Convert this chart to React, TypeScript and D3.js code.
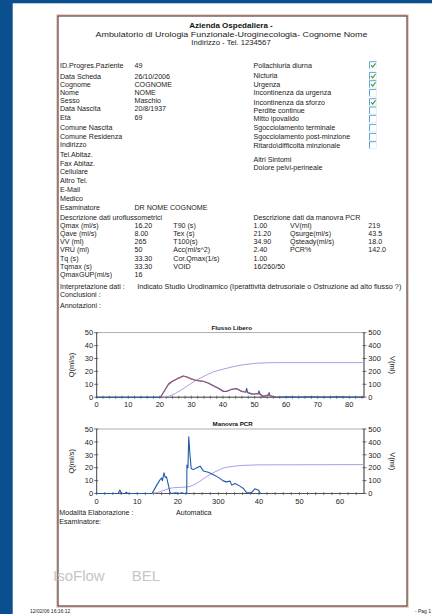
import * as React from 'react';
import {line, scaleLinear, range} from 'd3';

const W = 432;
const H = 614;
const FONT = "'Liberation Sans', Arial, sans-serif";

// header
const headerLines = [
    'Azienda Ospedaliera -',
    'Ambulatorio di Urologia Funzionale-Uroginecologia- Cognome Nome',
    'Indirizzo - Tel. 1234567',
];

// patient block
const patientLabels = ['ID.Progres.Paziente', 'Data Scheda', 'Cognome', 'Nome', 'Sesso', 'Data Nascita', 'Età',
    'Comune Nascita', 'Comune Residenza', 'Indirizzo', 'Tel.Abitaz.', 'Fax Abitaz.', 'Cellulare', 'Altro Tel.',
    'E-Mail', 'Medico', 'Esaminatore'];
const patientValues = ['49', '26/10/2006', 'COGNOME', 'NOME', 'Maschio', '20/8/1937', '69',
    '', '', '', '', '', '', '', '', '', 'DR NOME COGNOME'];
const patientRowY = [65, 76, 84.3, 92.7, 100.7, 108.7, 117, 127.3, 136, 144.3, 154, 163.3, 171.7, 180.5, 189, 198.3, 207.3];

// symptoms
const symptoms = ['Pollachiuria diurna', 'Nicturia', 'Urgenza', 'Incontinenza da urgenza', 'Incontinenza da sforzo',
    'Perdite continue', 'Mitto ipovalido', 'Sgocciolamento terminale', 'Sgocciolamento post-minzione',
    'Ritardo\\difficoltà minzionale'];
const symptomChecked = [true, true, true, false, true, false, false, false, false, false];
const symptomRowY = [65, 75.7, 84, 92.7, 102, 110.3, 118.6, 127.7, 136.7, 145];

// uroflow table
const uroLabels = ['Qmax (ml/s)', 'Qave (ml/s)', 'VV (ml)', 'VRU (ml)', 'Tq (s)', 'Tqmax (s)', 'QmaxGUP(ml/s)'];
const uroValues = ['16.20', '8.00', '265', '50', '33.30', '33.30', '16'];
const timeLabels = ['T90 (s)', 'Tex (s)', 'T100(s)', 'Acc(ml/s^2)', 'Cor.Qmax(1/s)', 'VOID'];
const timeValues = ['1.00', '21.20', '34.90', '2.40', '1.00', '16/260/50'];
const pcrLabels = ['VV(ml)', 'Qsurge(ml/s)', 'Qsteady(ml/s)', 'PCR%'];
const pcrValues = ['219', '43.5', '18.0', '142.0'];

// chart 1: Flusso Libero
const free1Time = [0, 20.2, 21.6, 22.7, 23.7, 25.8, 27.4, 28.4, 30.0, 31.6, 33.7, 35.3, 36.9, 38.5, 40.1, 41.1, 42.7,
    44.3, 45.9, 47.2, 47.5, 47.8, 49.1, 51.2, 51.4, 51.7, 52.8, 54.4, 54.6, 54.9, 56.0, 57.0, 60, 64, 68, 72, 76, 80, 84.5];
const free1Flow = [0, 0, 5.6, 10, 12, 14.7, 16.5, 15.9, 14.1, 13, 12.4, 11, 8.9, 7, 4.4, 4.4, 6.2,
    6.8, 4.4, 3.9, 6.8, 3.5, 2.3, 2.8, 4.9, 2.5, 0.6, 1.7, 3.6, 1.2, 0.3, 0, 0.3, 0.2, 0.3, 0.2, 0.3, 0.2, 0.2];
const smooth1Time = [20.2, 21.6, 22.7, 23.7, 25.8, 27.4, 28.4, 30.0, 31.6, 33.7, 35.3, 36.9, 38.5, 40.1, 41.1, 42.7,
    44.3, 45.9, 47.5, 49.1, 51.2, 52.8, 54.4, 56.0, 57.0];
const smooth1Flow = [0, 5.4, 9.6, 11.8, 14.6, 16.2, 15.8, 14.2, 13.0, 12.3, 11.0, 9.0, 7.1, 4.8, 4.6, 6.0,
    6.5, 4.8, 4.2, 2.8, 2.6, 1.0, 1.6, 0.5, 0];
const vol1Time = [21, 23, 25, 27, 29, 31, 33, 35, 37, 40, 43, 46, 50, 53, 57, 84.6];
const vol1Vol = [0, 8, 30, 60, 92, 125, 150, 175, 197, 217, 235, 250, 262, 266, 268, 268];
const xLabels1 = ['0', '10', '20', '30', '40', '50', '60', '70', '80'];

// chart 2: Manovra PCR
const pcrTime = [0, 5.3, 5.7, 6.2, 7.0, 7.3, 7.6, 13.6, 14.2, 14.8, 15.3, 15.7, 16.0, 16.2, 16.4, 16.6, 16.9, 17.2,
    17.5, 17.8, 18.1, 18.4, 19.5, 20.3, 21.0, 21.6, 22.2, 22.25, 22.5, 22.7, 23.0, 23.3, 23.8, 24.7, 25.5, 26.3, 27.5,
    28.8, 30.0, 31.2, 32.0, 32.9, 33.3, 34.1, 34.5, 35.3, 36.2, 37.0, 38.2, 39.0, 39.9, 40.4];
const pcrFlow = [0, 0, 2.6, 0, 0, 1, 0, 0, 3, 6.5, 9, 11, 12, 10, 13, 16, 12.5, 13,
    9, 5, 0.5, 0, 0.5, 0, 0.6, 0, 0, 22, 20, 44, 30, 19.4, 18.5, 20, 21.2, 17.5, 16.5,
    14.5, 12.5, 9.8, 9, 9.6, 6.5, 7.8, 7.2, 5.7, 3.9, 0.5, 0.7, 3.6, 2.6, 0];
const vol2Time = [13.6, 15, 16, 17, 18, 19, 22.2, 23, 24, 25, 26, 27, 28, 29, 30, 31, 32, 34, 36, 40, 65.9];
const vol2Vol = [0, 8, 18, 30, 40, 45, 50, 55, 68, 85, 108, 128, 148, 165, 180, 195, 203, 212, 218, 222, 224];
const xLabels2 = ['0', '10', '20', '300', '40', '50', '60'];

const qLabels = ['0', '10', '20', '30', '40', '50'];
const vLabels = ['0', '100', '200', '300', '400', '500'];

const X0 = 96.7;
const X1 = 364;
const PH = 64.5;

type ChartProps = {
    top: number, xMax: number, title: string, titleX: number, xLabels: string[],
    flowT: number[], flowV: number[], smoothT?: number[], smoothV?: number[], volT: number[], volV: number[]
};

function Chart(p: ChartProps) {
    const x = scaleLinear().domain([0, p.xMax]).range([X0, X1]);
    const yQ = scaleLinear().domain([0, 50]).range([p.top + PH, p.top]);
    const yV = scaleLinear().domain([0, 500]).range([p.top + PH, p.top]);
    const bottom = p.top + PH;
    const mk = (ts: number[], vs: number[], ys: any) =>
        line<number>().x((_, i) => x(ts[i])).y(v => ys(v))(vs) || '';
    const minor = range(0, p.xMax, 2);
    const axis = '#4a4a4a';
    const tick = {fontFamily: FONT, fontSize: 7.5, fill: '#222'};
    const midY = p.top + PH / 2;
    return (
        <g>
            <text x={p.titleX} y={p.top - 2.9} textAnchor="middle" fontFamily={FONT} fontSize={6.2}
                  fontWeight="bold" fill="#111">{p.title}</text>
            <rect x={X0} y={p.top} width={X1 - X0} height={PH} fill="none" stroke="#8a8a8a" strokeWidth={0.7}/>
            <line x1={X0} x2={X0} y1={p.top} y2={bottom} stroke={axis} strokeWidth={0.9}/>
            <line x1={X1} x2={X1} y1={p.top} y2={bottom} stroke={axis} strokeWidth={0.9}/>
            <line x1={X0} x2={X1} y1={bottom} y2={bottom} stroke={axis} strokeWidth={0.9}/>
            {minor.map(t => (
                <line key={'m' + t} x1={x(t)} x2={x(t)} y1={bottom - 1.5} y2={bottom + 1.6}
                      stroke={axis} strokeWidth={0.7}/>
            ))}
            {p.xLabels.map((l, i) => (
                <text key={'xl' + i} x={x(i * 10)} y={bottom + 10.2} textAnchor="middle" {...tick}>{l}</text>
            ))}
            {qLabels.map((l, i) => (
                <g key={'q' + i}>
                    <line x1={X0 - 2.5} x2={X0 + 1.5} y1={yQ(i * 10)} y2={yQ(i * 10)} stroke={axis} strokeWidth={0.8}/>
                    <text x={X0 - 3.6} y={yQ(i * 10) + 2.7} textAnchor="end" {...tick}>{l}</text>
                </g>
            ))}
            {vLabels.map((l, i) => (
                <g key={'v' + i}>
                    <line x1={X1 - 1.5} x2={X1 + 2.5} y1={yV(i * 100)} y2={yV(i * 100)} stroke={axis} strokeWidth={0.8}/>
                    <text x={X1 + 4.3} y={yV(i * 100) + 2.7} textAnchor="start" {...tick}>{l}</text>
                </g>
            ))}
            <text transform={`translate(74.2,${midY}) rotate(-90)`} textAnchor="middle" {...tick}>Q(ml/s)</text>
            <text transform={`translate(390.2,${midY}) rotate(90)`} textAnchor="middle" {...tick}>V(ml)</text>
            <path d={mk(p.volT, p.volV, yV)} fill="none" stroke="#ab9ee6" strokeWidth={1}/>
            <path d={mk(p.flowT, p.flowV, yQ)} fill="none" stroke="#1f5aa8" strokeWidth={1.1} strokeLinejoin="round"/>
            {p.smoothT && p.smoothV &&
            <path d={mk(p.smoothT, p.smoothV, yQ)} fill="none" stroke="#c05468" strokeWidth={1.1}
                  strokeLinejoin="round" opacity={0.8}/>}
        </g>
    );
}

export default function App() {
    const txt = {fontFamily: FONT, fontSize: 7.1, fill: '#1a1a1a'};
    const tableY0 = 225;
    const rowH = 8.3;
    const b = 2.5;
    return (
        <div style={{position: 'absolute', left: 0, top: 0}}>
            <svg width={W} height={H} style={{display: 'block', background: '#fff'}}>
                <rect x={0} y={0} width={W} height={3.3} fill="#0b4f8e"/>
                <rect x={0} y={0} width={12.7} height={H} fill="#0b4f8e"/>
                <rect x={57.5} y={15.5} width={350} height={591} fill="none" stroke="#e2b3a3" strokeWidth={2.2}/>
                <rect x={58} y={16} width={349} height={590} fill="none" stroke="#3a3a3a" strokeWidth={0.9}/>

                <text x={231} y={28} textAnchor="middle" fontFamily={FONT} fontSize={8} fontWeight="bold"
                      fill="#111">{headerLines[0]}</text>
                <text x={231.5} y={36.9} textAnchor="middle" fontFamily={FONT} fontSize={7.7} textLength={272}
                      lengthAdjust="spacingAndGlyphs" fill="#222">{headerLines[1]}</text>
                <text x={231} y={45.2} textAnchor="middle" fontFamily={FONT} fontSize={7.7}
                      fill="#222">{headerLines[2]}</text>

                {patientLabels.map((l, i) => (
                    <g key={'p' + i}>
                        <text x={60} y={patientRowY[i] + b} {...txt}>{l}</text>
                        <text x={134.5} y={patientRowY[i] + b} {...txt}>{patientValues[i]}</text>
                    </g>
                ))}

                {symptoms.map((s, i) => {
                    const cy = symptomRowY[i] - 3.3;
                    return (
                        <g key={'s' + i}>
                            <text x={253.5} y={symptomRowY[i] + b} {...txt}>{s}</text>
                            <path d={`M369.5,${cy + 7} V${cy} H376.5`} fill="none" stroke="#4c9dcc" strokeWidth={0.9}/>
                            <path d={`M369.5,${cy + 7} H376.5 V${cy}`} fill="none" stroke="#d9e6ee" strokeWidth={0.6}/>
                            {symptomChecked[i] &&
                            <path d={`M371,${cy + 3.4} L372.7,${cy + 5.4} L375.6,${cy + 1.6}`} fill="none"
                                  stroke="#3a9a3a" strokeWidth={1.1}/>}
                        </g>
                    );
                })}
                <text x={253.5} y={159.3 + b} {...txt}>Altri Sintomi</text>
                <text x={253.5} y={167.7 + b} {...txt}>Dolore pelvi-perineale</text>

                <text x={60} y={217 + b} {...txt}>Descrizione dati uroflussometrici</text>
                <text x={253.5} y={217 + b} {...txt}>Descrizione dati da manovra PCR</text>
                {uroLabels.map((l, i) => (
                    <g key={'u' + i}>
                        <text x={60} y={tableY0 + i * rowH + b} {...txt}>{l}</text>
                        <text x={134.5} y={tableY0 + i * rowH + b} {...txt}>{uroValues[i]}</text>
                    </g>
                ))}
                {timeLabels.map((l, i) => (
                    <g key={'t' + i}>
                        <text x={173.3} y={tableY0 + i * rowH + b} {...txt}>{l}</text>
                        <text x={253.5} y={tableY0 + i * rowH + b} {...txt}>{timeValues[i]}</text>
                    </g>
                ))}
                {pcrLabels.map((l, i) => (
                    <g key={'c' + i}>
                        <text x={290} y={tableY0 + i * rowH + b} {...txt}>{l}</text>
                        <text x={368.3} y={tableY0 + i * rowH + b} {...txt}>{pcrValues[i]}</text>
                    </g>
                ))}

                <text x={60} y={286 + b} {...txt}>Interpretazione dati :</text>
                <text x={137.3} y={286 + b} {...txt} textLength={264} lengthAdjust="spacingAndGlyphs">Indicato Studio Urodinamico (Iperattività detrusoriale o Ostruzione ad alto flusso ?)</text>
                <text x={60} y={294.4 + b} {...txt}>Conclusioni :</text>
                <text x={60} y={305 + b} {...txt}>Annotazioni :</text>

                <Chart top={332.7} xMax={84.66} title="Flusso Libero" titleX={231.7} xLabels={xLabels1}
                       flowT={free1Time} flowV={free1Flow} smoothT={smooth1Time} smoothV={smooth1Flow}
                       volT={vol1Time} volV={vol1Vol}/>
                <Chart top={429} xMax={65.92} title="Manovra PCR" titleX={232.7} xLabels={xLabels2}
                       flowT={pcrTime} flowV={pcrFlow} volT={vol2Time} volV={vol2Vol}/>

                <text x={59.3} y={512.8 + b} {...txt}>Modalità Elaborazione :</text>
                <text x={176} y={512.8 + b} {...txt}>Automatica</text>
                <text x={59.3} y={521.2 + b} {...txt}>Esaminatore:</text>

                <text x={53} y={580.5} fontFamily={FONT} fontSize={15} fill="#c6c6c6">IsoFlow</text>
                <text x={131.7} y={580.5} fontFamily={FONT} fontSize={15} fill="#c6c6c6">BEL</text>

                <text x={30} y={613} fontFamily={FONT} fontSize={5} fill="#222">12/02/06 16:16:12</text>
                <text x={431} y={613} textAnchor="end" fontFamily={FONT} fontSize={5} fill="#222">- Pag 1</text>
            </svg>
        </div>
    );
}
